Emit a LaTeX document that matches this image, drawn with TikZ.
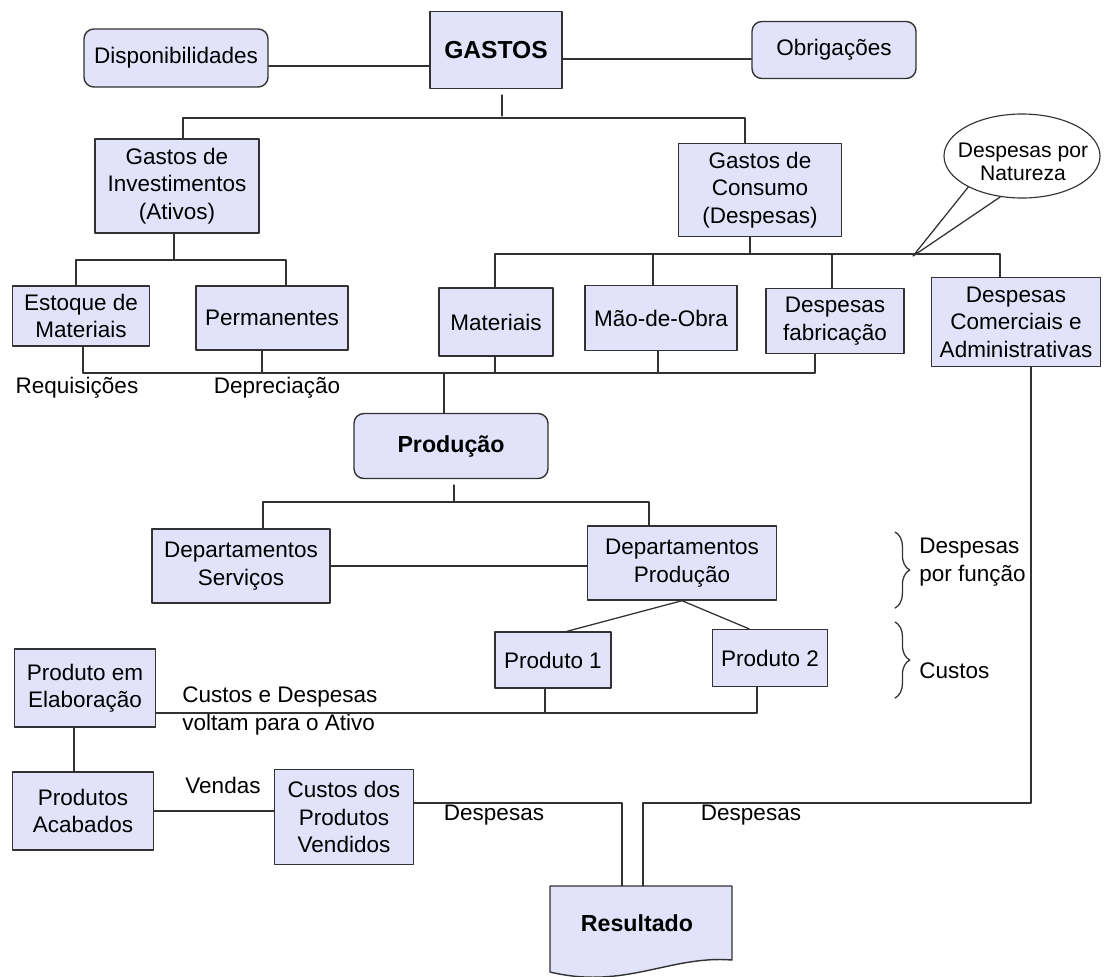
\documentclass[tikz,border=0pt]{standalone}
\usepackage{fontspec}
\setmainfont{Liberation Sans}
\usetikzlibrary{shapes.geometric,decorations.pathreplacing,calc}
\definecolor{lilas}{RGB}{226,226,250}
\definecolor{borda}{RGB}{50,50,50}

\begin{document}
\begin{tikzpicture}[x=0.025cm, y=-0.025cm, font=\fontsize{16}{19.5}\selectfont, line join=round, line cap=round]
	\def\unid{0.025cm}
	\tikzset{
		forma/.style={draw=borda, fill=lilas, line width=1pt},
		caixa/.style={forma, align=center, inner sep=1pt},
		arred/.style={caixa, rounded corners=7pt},
		tam/.style 2 args={minimum width=#1*\unid, minimum height=#2*\unid},
		negrito/.style={font=\fontsize{16.5}{19}\selectfont\bfseries},
		rotulo/.style={align=left, inner sep=0pt},
		liga/.style={draw=borda, line width=0.9pt},
		chave/.style={liga, decorate, decoration={brace, amplitude=0.37cm}}
	}
	\useasboundingbox[fill=white] (0,0) rectangle (1104,976);
	
	\path
	(300,66) coordinate (h1)
	(650,59) coordinate (h2)
	(502,95) coordinate (s1)
	(502,116) coordinate (s2)
	(183,118) coordinate (a1)
	(745,118) coordinate (a2)
	(174,260) coordinate (b0)
	(76,260) coordinate (b1)
	(286,260) coordinate (b2)
	(495,254) coordinate (c1)
	(1000,254) coordinate (c2)
	(750,254) coordinate (cg)
	(653,254) coordinate (cm)
	(832,254) coordinate (cf)
	(913,256) coordinate (ponta)
	(83,373) coordinate (d1)
	(262,373) coordinate (d2)
	(495,373) coordinate (d3)
	(658,373) coordinate (d4)
	(815,373) coordinate (d5)
	(444,373) coordinate (dp)
	(454,485) coordinate (e0)
	(454,502) coordinate (e1)
	(263,502) coordinate (e2)
	(649,502) coordinate (e3)
	(545,713) coordinate (g1)
	(757,713) coordinate (g2)
	(74,740) coordinate (k1)
	(622,803) coordinate (m1)
	(1031,803) coordinate (n1)
	(643,803) coordinate (n2)
	;
	
	\node[arred, tam={184}{58}] (disp) at (176,58) {Disponibilidades};
	\node[caixa, tam={132}{77}, font=\fontsize{17.5}{20}\selectfont\bfseries] (gastos) at (496,50) {GASTOS};
	\node[arred, tam={164}{57}] (obrig) at (834,50) {Obrigações};
	\node[caixa, tam={164}{94}] (ginv) at (177,186) {Gastos de\\Investimentos\\(Ativos)};
	\node[caixa, tam={163}{93}] (gcons) at (760,190) {Gastos de\\Consumo\\(Despesas)};
	\node[ellipse, draw=borda, fill=white, line width=0.8pt, inner sep=0pt, tam={156}{84}] (balao) at (1022,156) {};
	\node[rotulo, align=center, font=\fontsize{15}{16.5}\selectfont] (tbalao) at (1023,162) {Despesas por\\Natureza};
	\node[caixa, tam={137}{60}] (estoque) at (81,316) {Estoque de\\Materiais};
	\node[caixa, tam={152}{64}] (perm) at (272,318) {Permanentes};
	\node[caixa, tam={114}{68}] (mat) at (496,322) {Materiais};
	\node[caixa, tam={152}{65}] (mao) at (661,318) {Mão-de-Obra};
	\node[caixa, tam={138}{65}] (dfab) at (835,321) {Despesas\\fabricação};
	\node[caixa, tam={169}{89}] (dca) at (1016,322) {Despesas\\Comerciais e\\Administrativas};
	\node[arred, negrito, tam={194}{65}] (prod) at (451,446) {Produção};
	\node[caixa, tam={178}{74}] (dserv) at (241,566) {Departamentos\\Serviços};
	\node[caixa, tam={189}{74}] (dprod) at (682,563) {Departamentos\\Produção};
	\node[caixa, tam={116}{56}] (p1) at (553,660) {Produto 1};
	\node[caixa, tam={115}{57}] (p2) at (770,658) {Produto 2};
	\node[caixa, tam={141}{78}] (pelab) at (85,688) {Produto em\\Elaboração};
	\node[caixa, tam={141}{78}] (pacab) at (83,811) {Produtos\\Acabados};
	\node[caixa, tam={139}{95}] (cpv) at (344,817) {Custos dos\\Produtos\\Vendidos};
	\draw[forma] (550,886) -- (732,886) -- (732,960) .. controls (670,955) and (625,990) .. (550,972) -- cycle;
	\node[negrito, tam={182}{74}] (result) at (637,923) {Resultado};
	
	\node[rotulo] (lreq) at (77,388) {Requisições};
	\node[rotulo] (ldep) at (277,388) {Depreciação};
	\node[rotulo, anchor=west] (lvolta) at (182,711) {Custos e Despesas\\voltam para o Ativo};
	\node[rotulo] (lvendas) at (223,785) {Vendas};
	\node[rotulo] (ldesp1) at (494,815) {Despesas};
	\node[rotulo] (ldesp2) at (751,815) {Despesas};
	\node[rotulo, anchor=west] (lfuncao) at (919,562) {Despesas\\por função};
	\node[rotulo, anchor=west] (lcustos) at (919,671) {Custos};
	\draw[chave] (895,532) -- (895,608);
	\draw[chave] (895,622) -- (895,698);
	
	\draw[liga] (balao.210) -- (ponta) -- (balao.242);
	\draw[liga] (disp.east |- h1) -- (gastos.west |- h1);
	\draw[liga] (gastos.east |- h2) -- (obrig.west |- h2);
	\draw[liga] (s1) -- (s2);
	\draw[liga] (a1 |- ginv.north) -- (a1) -- (a2) -- (a2 |- gcons.north);
	\draw[liga] (b0 |- ginv.south) -- (b0);
	\draw[liga] (b1 |- estoque.north) -- (b1) -- (b2) -- (b2 |- perm.north);
	\draw[liga] (c1 |- mat.north) -- (c1) -- (c2) -- (c2 |- dca.north);
	\foreach \c/\n in {cg/gcons.south, cm/mao.north, cf/dfab.north}
		\draw[liga] (\c) -- (\c |- \n);
	\draw[liga] (d1 |- estoque.south) -- (d1) -- (d5) -- (d5 |- dfab.south);
	\foreach \c/\n in {d2/perm, d3/mat, d4/mao}
		\draw[liga] (\c) -- (\c |- \n.south);
	\draw[liga] (dp) -- (dp |- prod.north);
	\draw[liga] (e0) -- (e1);
	\draw[liga] (e2 |- dserv.north) -- (e2) -- (e3) -- (e3 |- dprod.north);
	\draw[liga] (dserv.east) -- (dserv.east -| dprod.west);
	\draw[liga] (dprod.south) -- ($(p1.north)+(14,0)$);
	\draw[liga] (dprod.south) -- ($(p2.north)+(-21,0)$);
	\draw[liga] (g1 |- p1.south) -- (g1);
	\draw[liga] (pelab.east |- g1) -- (g2) -- (g2 |- p2.south);
	\draw[liga] (k1 |- pelab.south) -- (k1 |- pacab.north);
	\draw[liga] (pacab.east) -- (pacab.east -| cpv.west);
	\draw[liga] (cpv.east |- m1) -- (m1) -- (m1 |- result.north);
	\draw[liga] (n1 |- dca.south) -- (n1) -- (n2) -- (n2 |- result.north);
\end{tikzpicture}
\end{document}
